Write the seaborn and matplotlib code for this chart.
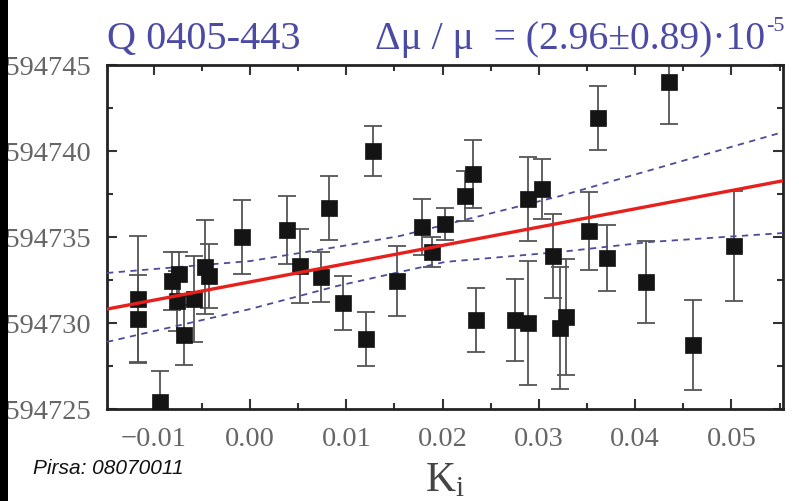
import numpy as np
import pandas as pd
import matplotlib
matplotlib.use("Agg")
import matplotlib.pyplot as plt
from matplotlib.patches import Rectangle
from matplotlib.ticker import MultipleLocator, FixedLocator, FixedFormatter
import seaborn as sns

# ---- data ----
k_vals = [-0.01163, -0.01163, -0.00935, -0.00810, -0.00737, -0.00758, -0.00685,
          -0.00582, -0.00467, -0.00426, -0.00083, 0.00384, 0.00519, 0.00737,
          0.00820, 0.00966, 0.01205, 0.01277, 0.01526, 0.01786, 0.01890,
          0.02025, 0.02233, 0.02316, 0.02347, 0.02752, 0.02887, 0.02887,
          0.03032, 0.03146, 0.03219, 0.03281, 0.03520, 0.03614, 0.03707,
          0.04112, 0.04351, 0.04600, 0.05026]
y_vals = [594731.40, 594730.23, 594725.41, 594732.44, 594732.85, 594731.28, 594729.30,
          594731.40, 594733.26, 594732.73, 594735.00, 594735.41, 594733.31, 594732.67,
          594736.69, 594731.16, 594729.07, 594740.00, 594732.44, 594735.58, 594734.13,
          594735.76, 594737.38, 594738.66, 594730.17, 594730.17, 594730.00, 594737.21,
          594737.79, 594733.90, 594729.71, 594730.35, 594735.35, 594741.92, 594733.78,
          594732.38, 594744.01, 594728.72, 594734.48]
y_errs = [3.66, 2.56, 1.80, 1.69, 1.28, 1.74, 1.74,
          2.50, 2.73, 1.86, 2.15, 1.98, 2.15, 1.45,
          1.86, 1.57, 1.57, 1.45, 2.03, 1.63, 0.87,
          0.93, 1.45, 1.98, 1.86, 2.38, 3.60, 2.44,
          1.74, 2.44, 3.55, 3.37, 2.27, 1.86, 1.92,
          2.38, 2.44, 2.62, 3.20]

fit_k = [-0.01485, 0.05535]
fit_y = [594730.81, 594738.27]
upper_k = [-0.01485, 0.0, 0.00903, 0.01558, 0.03219, 0.05535]
upper_y = [594732.91, 594733.60, 594734.42, 594735.06, 594737.38, 594741.10]
lower_k = [-0.01485, 0.0, 0.00903, 0.02025, 0.03219, 0.04154, 0.05535]
lower_y = [594728.90, 594730.81, 594732.15, 594733.55, 594734.13, 594734.71, 594735.23]

x_ticks = [-0.01, 0.00, 0.01, 0.02, 0.03, 0.04, 0.05]
x_tick_labels = ["\u22120.01", "0.00", "0.01", "0.02", "0.03", "0.04", "0.05"]
y_ticks = [594725, 594730, 594735, 594740, 594745]
y_tick_labels = ["2.594725", "2.594730", "2.594735", "2.594740", "2.594745"]

title_left = "Q 0405-443"
title_right = "\u0394\u03bc / \u03bc  = (2.96\u00b10.89)\u00b710"
title_exp = "-5"
x_label = r"$\mathregular{K_i}$"
watermark = "Pirsa: 08070011"

# ---- style ----
sns.set_style("ticks")
plt.rcParams["font.family"] = ["Liberation Serif", "DejaVu Serif"]
plt.rcParams["mathtext.fontset"] = "custom"
plt.rcParams["mathtext.rm"] = "Liberation Serif"
plt.rcParams["mathtext.it"] = "Liberation Serif:italic"

W, H = 799, 502
fig = plt.figure(figsize=(W / 100, H / 100), dpi=100)
fig.patch.set_facecolor("white")
ax = fig.add_axes([107 / W, 1 - 410 / H, (783 - 107) / W, (410 - 66) / H])
ax.set_facecolor("white")

pts = pd.DataFrame({"k": k_vals, "y": y_vals, "err": y_errs})
ax.errorbar(pts["k"], pts["y"], yerr=pts["err"], fmt="none", ecolor="#555555",
            elinewidth=1.3, capsize=6.5, capthick=1.3, zorder=2)

fit_df = pd.DataFrame({"k": fit_k, "y": fit_y})
up_df = pd.DataFrame({"k": upper_k, "y": upper_y})
lo_df = pd.DataFrame({"k": lower_k, "y": lower_y})
sns.lineplot(data=up_df, x="k", y="y", ax=ax, color="#4c4c98", lw=1.3,
             linestyle=(0, (3.5, 3)), zorder=3)
sns.lineplot(data=lo_df, x="k", y="y", ax=ax, color="#4c4c98", lw=1.3,
             linestyle=(0, (3.5, 3)), zorder=3)
sns.scatterplot(data=pts, x="k", y="y", ax=ax, marker="s", s=120, color="#141414",
                edgecolor="#141414", linewidth=0.5, zorder=4)
sns.lineplot(data=fit_df, x="k", y="y", ax=ax, color="#e8201c", lw=2.4, zorder=5)

ax.set_xlim(-0.01485, 0.05535)
ax.set_ylim(594725, 594745)

ax.xaxis.set_major_locator(FixedLocator(x_ticks))
ax.xaxis.set_major_formatter(FixedFormatter(x_tick_labels))
ax.xaxis.set_minor_locator(MultipleLocator(0.005))
ax.yaxis.set_major_locator(FixedLocator(y_ticks))
ax.yaxis.set_major_formatter(FixedFormatter(y_tick_labels))
ax.yaxis.set_minor_locator(MultipleLocator(2.5))

ax.tick_params(axis="both", which="both", direction="in", top=True, right=True,
               color="#333333", width=1.5)
ax.tick_params(axis="both", which="major", length=7, labelsize=20.5,
               labelcolor="#666666")
ax.tick_params(axis="x", which="major", pad=12)
ax.tick_params(axis="y", which="major", pad=11)
ax.tick_params(axis="both", which="minor", length=4)
for s in ax.spines.values():
    s.set_color("#222222")
    s.set_linewidth(2)

ax.set_xlabel(x_label, fontsize=30, color="#444444", labelpad=0)
ax.xaxis.set_label_coords(0.5, -0.152)
ax.set_ylabel("")

fig.text(107 / W, 1 - 49 / H, title_left, fontsize=29, color="#4b4ba6",
         ha="left", va="baseline")
t_right = fig.text(375 / W, 1 - 49 / H, title_right, fontsize=28.5, color="#4b4ba6",
                   ha="left", va="baseline")
ax.annotate(title_exp, xy=(1.0, 1.0), xycoords=t_right, xytext=(0.5, 3),
            textcoords="offset points", ha="left", va="top", fontsize=16,
            color="#4b4ba6", annotation_clip=False)
fig.text(33 / W, 1 - 474 / H, watermark, fontsize=15, style="italic",
         color="#111111", family=["Liberation Sans", "DejaVu Sans"],
         ha="left", va="baseline")

fig.add_artist(Rectangle((0, 0), 8 / W, 1, transform=fig.transFigure,
                         facecolor="black", edgecolor="none", zorder=20))

fig.savefig("out.png", dpi=100)
